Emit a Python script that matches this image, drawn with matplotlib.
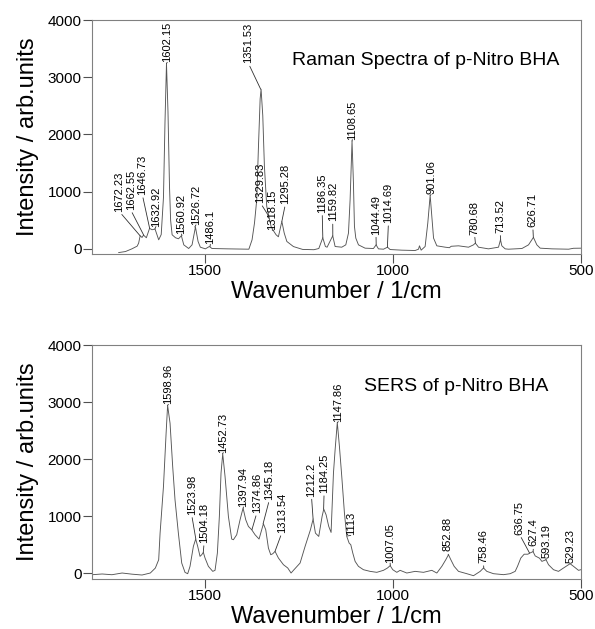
import matplotlib
matplotlib.use("Agg")
import matplotlib.pyplot as plt

plt.rcParams['font.family'] = ['Liberation Sans', 'DejaVu Sans']

# ---- Raman spectrum ----
raman_w = [1729, 1711, 1694, 1680, 1676, 1672, 1667, 1663, 1655.5, 1647, 1640.4,
           1632.4, 1622.7, 1616, 1610, 1606, 1602, 1598, 1594, 1591, 1587, 1578,
           1570, 1562.4, 1556, 1543, 1534, 1525, 1518, 1512, 1498.6, 1488, 1481,
           1440, 1383, 1374.5, 1368, 1362, 1357.7, 1353, 1350.5, 1346, 1341.7,
           1335.5, 1329.8, 1324, 1318, 1310.6, 1304.5, 1295.3, 1289, 1282, 1264.5,
           1240, 1210, 1197, 1186.5, 1179.5, 1175, 1160, 1153.7, 1136, 1125.3,
           1118.2, 1113.8, 1108.7, 1105, 1102.3, 1098.7, 1091.6, 1074, 1051.8,
           1044.7, 1038.5, 1025, 1014.5, 1007.4, 976.4, 941, 932, 929.4, 925,
           914.4, 907.3, 901, 896.6, 892, 883.3, 861, 850, 845, 825.7, 799, 785.8,
           781, 776, 772.5, 746, 719.3, 714, 710.5, 701.6, 692.7, 657, 639.5,
           626.5, 617.4, 608.5, 577.5, 533, 520, 497.7]
raman_i = [-65, -47, 0, 47, 100, 229, 199, 240, 194, 358, 334,
           346, 158, 250, 900, 2200, 3240, 2400, 1100, 500, 246, 194,
           176, 229, 70, 6, 70, 381, 129, 29, 0, 41, 6,
           0, -6, 158, 452, 862, 1742, 2622, 2790, 2329, 1449,
           745, 569, 393, 320, 246, 211, 480, 276, 129, 40,
           -10, -15, 6, 194, 41, 29, 229, 41, 29, 70,
           275, 862, 1885, 1156, 393, 188, 70, 12, 6,
           70, 0, -6, 29, -12, -23, -29, -6, 53, -23,
           41, 452, 935, 569, 188, 53, 29, 20, 45, 53, 29, 70,
           100, 60, 29, 0, 29, 160, 53, 0, -6, 6, 70,
           200, 70, 12, 0, -6, 10, 12]

# ---- SERS spectrum ----
sers_w = [1800, 1773, 1747, 1720, 1694, 1667, 1645, 1631.6, 1622.7, 1619, 1610,
          1603, 1599, 1592.5, 1585.5, 1579.3, 1570.4, 1561.5, 1552.7, 1545.6,
          1539.4, 1530.5, 1524.3, 1519, 1512.8, 1508.3, 1504, 1499.5, 1490.6,
          1479, 1472.9, 1466.7, 1461.4, 1457, 1452.5, 1446.3, 1437.4, 1428.6,
          1424.1, 1415.3, 1406.4, 1398.4, 1391.3, 1384.2, 1375.4, 1366.5, 1355.9,
          1348.8, 1344.3, 1338.1, 1331, 1324.8, 1319.5, 1313.3, 1304.4, 1291.1,
          1279.6, 1270.8, 1264.5, 1246.8, 1233.5, 1219.3, 1212.2, 1206, 1197.2,
          1188.3, 1183.9, 1177.7, 1170.6, 1164.4, 1158.1, 1153.7, 1147.9, 1142.2,
          1136, 1128.9, 1122.7, 1116.5, 1112, 1106.7, 1100.5, 1091.7, 1078.4,
          1060.6, 1042.9, 1025.2, 1014.5, 1007.4, 1000.4, 989.7, 980.9, 963.1,
          941, 918.8, 896.6, 883.3, 870, 859.4, 852.3, 846.1, 837.2, 825.7, 803.5,
          785.8, 768, 759.2, 750.4, 732.6, 706, 688.3, 675, 668.8, 660, 651.1,
          641.3, 636, 627.5, 621.8, 610.3, 604, 593, 586.4, 573.1, 559.8, 546.5,
          529, 519.9, 506.6, 500.4]
sers_i = [-30, -17, -30, 0, -20, -35, 0, 87, 233, 700, 1518,
          2452, 2940, 2628, 1868, 1284, 700, 175, 11, -12,
          117, 467, 596, 467, 292, 321, 362, 263, 117,
          29, 47, 350, 993, 1752, 2091, 1694, 993, 596,
          584, 671, 934, 1139, 934, 817, 759, 671, 596,
          759, 864, 759, 438, 321, 338, 379, 263, 146,
          88, 0, 47, 175, 467, 758, 946, 700, 642,
          993, 1121, 1022, 817, 712, 1752, 2161, 2640, 2219,
          1694, 1051, 642, 526, 496, 350, 204, 117, 58,
          29, 12, 47, 88, 129, 58, 12, 47, 0,
          29, 12, 47, 0, 117, 234, 321, 234, 117, 29, -12,
          -47, 29, 88, 29, -12, -29, -12, 29, 117, 263, 330,
          330, 350, 375, 300, 260, 204, 233, 146, 58, 29, 88,
          163, 117, 47, 58]

# ---- peak labels: label, text x, text bottom y, peak y ----
raman_lab = ['1672.23', '1662.55', '1646.73', '1632.92', '1602.15', '1560.92',
             '1526.72', '1486.1', '1351.53', '1329.83', '1318.15', '1295.28',
             '1186.35', '1159.82', '1108.65', '1044.49', '1014.69', '901.06',
             '780.68', '713.52', '626.71']
raman_lab_x = [1727, 1697, 1666, 1630, 1600, 1562, 1523.5, 1485.5, 1384, 1352,
               1321, 1286, 1188, 1160, 1108, 1045, 1012, 898.5, 783, 715, 628]
raman_lab_y = [650, 680, 940, 390, 3260, 260, 420, 80, 3240, 800, 330, 780, 630,
               480, 1910, 250, 450, 950, 250, 280, 380]
raman_tip_y = [229, 240, 358, 346, 3240, 229, 381, 41, 2790, 569, 320, 480, 194,
               229, 1885, 70, 29, 935, 100, 160, 200]

sers_lab = ['1598.96', '1523.98', '1504.18', '1452.73', '1397.94', '1374.86',
            '1345.18', '1313.54', '1212.2', '1184.25', '1147.86', '1113',
            '1007.05', '852.88', '758.46', '636.75', '627.4', '593.19', '529.23']
sers_tip_x = [1598.96, 1523.98, 1504.18, 1452.73, 1397.94, 1374.86, 1345.18,
              1313.54, 1212.2, 1184.25, 1147.86, 1121, 1007.05, 852.88, 758.46,
              636.75, 627.4, 593.19, 529.23]
sers_lab_x = [1597, 1535, 1502, 1451, 1397.5, 1362, 1328.5, 1295.5, 1216.5, 1183,
              1145, 1112, 1007.4, 854, 759.3, 663, 626.3, 592.6, 528.7]
sers_lab_y = [2960, 1020, 526, 2113, 1160, 1051, 1284, 701, 1342, 1402, 2656,
              660, 175, 378, 175, 671, 466, 263, 175]
sers_tip_y = [2940, 596, 362, 2091, 1139, 759, 864, 379, 946, 1121, 2640, 650,
              129, 321, 88, 350, 375, 233, 163]

fig = plt.figure(figsize=(5.95, 6.29), dpi=100)
ax1 = fig.add_axes([92/595, 1-254/629, 489/595, 234/629])
ax2 = fig.add_axes([92/595, 1-579/629, 489/595, 234/629])


def style(ax, ylo):
    ax.set_xlim(1800, 500)
    ax.set_ylim(ylo, 4000)
    ax.set_xticks([1500, 1000, 500])
    ax.set_yticks([0, 1000, 2000, 3000, 4000])
    for s in ax.spines.values():
        s.set_color('#808080')
        s.set_linewidth(0.8)
    ax.tick_params(direction='out', length=6.5, width=0.8, color='#505050',
                   labelsize=11, top=False, right=False, pad=1)
    ax.set_xlabel('Wavenumber / 1/cm', fontsize=17, labelpad=2)
    ax.set_ylabel('Intensity / arb.units', fontsize=17, labelpad=6)


def annotate(ax, labs, tx, ty, lx, ly):
    for s, x0, y0, x1, y1 in zip(labs, tx, ty, lx, ly):
        ax.annotate(s, xy=(x0, y0), xytext=(x1, y1), rotation=90,
                    ha='center', va='bottom', fontsize=8,
                    arrowprops=dict(arrowstyle='-', lw=0.6, color='#303030',
                                    shrinkA=0, shrinkB=0, relpos=(0.5, 0)))


ax1.plot(raman_w, raman_i, color='#555555', lw=0.65)
style(ax1, -90)
annotate(ax1, raman_lab, [float(v) for v in raman_lab], raman_tip_y,
         raman_lab_x, raman_lab_y)
ax1.text(1269, 3215, 'Raman Spectra of p-Nitro BHA', fontsize=14)

ax2.plot(sers_w, sers_i, color='#555555', lw=0.65)
style(ax2, -105)
annotate(ax2, sers_lab, sers_tip_x, sers_tip_y, sers_lab_x, sers_lab_y)
ax2.text(1078, 3194, 'SERS of p-Nitro BHA', fontsize=14)

fig.savefig('out.png', dpi=100)
